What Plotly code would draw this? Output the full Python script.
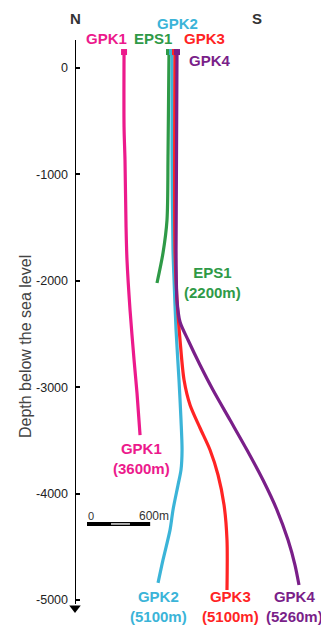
import plotly.graph_objects as go

# ---- data (horizontal offset in m, depth in m relative to sea level) ----
gpk1_x = [466, 466, 475, 485, 494, 523, 561, 589, 618]
gpk1_z = [150, -555, -865, -1495, -1805, -2275, -2744, -3055, -3450]

eps1_x = [893, 884, 874, 836, 779]
eps1_z = [150, -799, -1429, -1739, -2021]

gpk2_x = [922, 922, 931, 941, 960, 988, 1007, 1017, 1007, 979, 931, 903, 836, 789]
gpk2_z = [150, -771, -1711, -1993, -2463, -2933, -3308, -3590, -3778, -3919, -4154, -4342, -4624, -4840]

gpk3_x = [950, 950, 969, 998, 1036, 1093, 1188, 1283, 1359, 1416, 1444, 1444]
gpk3_z = [150, -1711, -2181, -2557, -2933, -3168, -3384, -3591, -3826, -4108, -4437, -4907]

gpk4_x = [969, 960, 969, 998, 1074, 1188, 1311, 1473, 1634, 1786, 1919, 2024, 2090, 2128]
gpk4_z = [150, -1711, -2181, -2388, -2557, -2792, -3027, -3309, -3591, -3873, -4155, -4437, -4672, -4860]

well_names = ["GPK1", "EPS1", "GPK2", "GPK3", "GPK4"]
well_depth_labels = ["(3600m)", "(2200m)", "(5100m)", "(5100m)", "(5260m)"]

tick_vals = [0, -1000, -2000, -3000, -4000, -5000]
tick_text = ["0", "-1000", "-2000", "-3000", "-4000", "-5000"]

scale_len = 600
scale_start = 114
scale_depth = -4286

# ---- styles ----
colors = {
    "GPK1": "#EC1A8C",
    "EPS1": "#2F9A47",
    "GPK2": "#3BB4D8",
    "GPK3": "#FF2424",
    "GPK4": "#7A1F89",
}
FONT = "Liberation Sans, Arial, sans-serif"

fig = go.Figure()

paths = [
    ("GPK1", gpk1_x, gpk1_z),
    ("EPS1", eps1_x, eps1_z),
    ("GPK2", gpk2_x, gpk2_z),
    ("GPK3", gpk3_x, gpk3_z),
    ("GPK4", gpk4_x, gpk4_z),
]
for name, xs, zs in paths:
    fig.add_trace(go.Scatter(
        x=xs, y=zs, mode="lines",
        line=dict(color=colors[name], width=3.2, shape="spline", smoothing=0.8),
        hoverinfo="skip", showlegend=False, cliponaxis=False,
    ))
# wellhead squares
for name, xs, zs in paths:
    fig.add_trace(go.Scatter(
        x=[xs[0]], y=[zs[0]], mode="markers",
        marker=dict(symbol="square", size=6, color=colors[name]),
        hoverinfo="skip", showlegend=False, cliponaxis=False,
    ))

# scale bar
fig.add_trace(go.Scatter(
    x=[scale_start, scale_start + scale_len], y=[scale_depth, scale_depth],
    mode="lines", line=dict(color="black", width=4),
    hoverinfo="skip", showlegend=False,
))
fig.add_trace(go.Scatter(
    x=[scale_start + 0.38 * scale_len, scale_start + 0.68 * scale_len],
    y=[scale_depth, scale_depth],
    mode="lines", line=dict(color="white", width=1.3),
    hoverinfo="skip", showlegend=False,
))

# depth axis line with arrow
axis_top, axis_bottom, arrow_tip = 263, -5038, -5076
fig.add_shape(type="line", xref="x", yref="y", x0=0, x1=0,
              y0=axis_top, y1=axis_bottom, line=dict(color="black", width=2))
fig.add_trace(go.Scatter(
    x=[0], y=[arrow_tip], mode="markers",
    marker=dict(symbol="triangle-down", size=10, color="black"),
    hoverinfo="skip", showlegend=False, cliponaxis=False,
))

ann = []
def label(text, x, y, color, size=15, bold=True, xanchor="center"):
    ann.append(dict(
        x=x, y=y, xref="x", yref="y", text=text, showarrow=False,
        xanchor=xanchor, yanchor="middle",
        font=dict(family=FONT, size=size, color=color,
                  weight="bold" if bold else "normal"),
    ))

label("N", 0, 470, "#333333", size=15)
label("S", 1729, 470, "#333333", size=15)
label("GPK2", 969, 423, colors["GPK2"])
label("GPK1", 295, 282, colors["GPK1"])
label("EPS1", 741, 282, colors["EPS1"])
label("GPK3", 1226, 282, colors["GPK3"])
label("GPK4", 1283, 75, colors["GPK4"])

label(well_names[1] + "<br>" + well_depth_labels[1], 1302, -2016, colors["EPS1"])
label(well_names[0] + "<br>" + well_depth_labels[0], 627, -3675, colors["GPK1"])
label(well_names[2] + "<br>" + well_depth_labels[2], 789, -5060, colors["GPK2"])
label(well_names[3] + "<br>" + well_depth_labels[3], 1473, -5060, colors["GPK3"])
label(well_names[4] + "<br>" + well_depth_labels[4], 2085, -5060, colors["GPK4"])

label("0", scale_start - 10, -4211, "#333333", size=11, bold=False, xanchor="left")
label("600m", 589, -4211, "#333333", size=12, bold=False, xanchor="left")

# axis title as rotated text
ann.append(dict(
    x=-50 / 254, y=-2623, xref="paper", yref="y",
    text="Depth below the sea level", showarrow=False, textangle=-90,
    xanchor="center", yanchor="middle",
    font=dict(family=FONT, size=16, color="#444444"),
))

fig.update_layout(
    width=321, height=618,
    margin=dict(l=67, r=0, t=0, b=0),
    paper_bgcolor="white", plot_bgcolor="white",
    annotations=ann,
    font=dict(family=FONT),
    xaxis=dict(range=[0, 254 * 9.5], visible=False, fixedrange=True),
    yaxis=dict(
        range=[-5245.2, 564],
        tickvals=tick_vals, ticktext=tick_text,
        showline=False,
        ticks="inside", ticklen=5, tickwidth=1.5, tickcolor="black",
        showgrid=False, zeroline=False,
        tickfont=dict(family=FONT, size=12.5, color="#222222"),
        ticklabelstandoff=6,
        fixedrange=True,
    ),
)

fig.write_html("out.html")
